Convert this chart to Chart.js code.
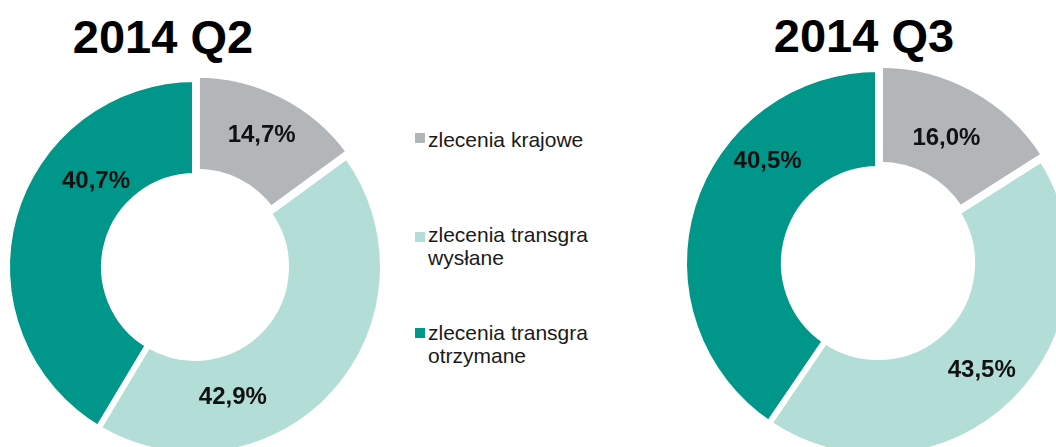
<!DOCTYPE html>
<html>
<head>
<meta charset="utf-8">
<script src="https://cdn.jsdelivr.net/npm/chart.js@4.4.0/dist/chart.umd.min.js"></script>
<style>
  html, body { margin:0; padding:0; background:#fff; }
  body { width:1056px; height:447px; overflow:hidden; position:relative; font-family:"Liberation Sans", Arial, sans-serif; }
  .box { position:absolute; }
  .title { position:absolute; font-weight:bold; font-size:47px; line-height:47px; color:#000; white-space:nowrap; transform:translateX(-50%); }
  .leg { position:absolute; left:428px; font-size:21px; line-height:23px; color:#1a1a1a; }
  .sq { position:absolute; left:415px; width:10px; height:10px; }
</style>
</head>
<body>
<div class="title" style="left:163px; top:13px;">2014 Q2</div>
<div class="title" style="left:864px; top:12px;">2014 Q3</div>
<div class="box" style="left:0px; top:0px; width:390px; height:447px;"><canvas id="c1"></canvas></div>
<div class="box" style="left:660px; top:0px; width:396px; height:447px;"><canvas id="c2"></canvas></div>
<div id="legend"></div>
<script>
// ---- data ----
const categories = ["zlecenia krajowe", "zlecenia transgra\nwysłane", "zlecenia transgra\notrzymane"];
const colors = ["#B2B6B9", "#B3DDD7", "#00968A"];
const titles = ["2014 Q2", "2014 Q3"];
const valuesQ2 = [14.7, 42.9, 40.7];
const valuesQ3 = [16.0, 43.5, 40.5];

// label placement (fraction along arc, fraction across ring)
const labelPosQ2 = [[0.5, 0.58], [0.70, 0.46], [0.67, 0.41]];
const labelPosQ3 = [[0.5, 0.48], [0.5, 0.55], [0.675, 0.56]];
const explode = [16, 0, 0];

const fmt = v => v.toFixed(1).replace('.', ',') + '%';

const labelPlugin = {
  id: 'sliceLabels',
  afterDatasetsDraw(chart, args, opts) {
    const ctx = chart.ctx;
    const meta = chart.getDatasetMeta(0);
    const data = chart.data.datasets[0].data;
    ctx.save();
    ctx.font = 'bold 24px "Liberation Sans", Arial, sans-serif';
    ctx.fillStyle = '#111';
    ctx.textAlign = 'center';
    ctx.textBaseline = 'middle';
    meta.data.forEach((arc, i) => {
      const p = arc.getProps(['x','y','startAngle','endAngle','innerRadius','outerRadius'], true);
      const pos = opts.pos[i];
      const a = p.startAngle + pos[0] * (p.endAngle - p.startAngle);
      const r = p.innerRadius + pos[1] * (p.outerRadius - p.innerRadius);
      ctx.fillText(fmt(data[i]), p.x + Math.cos(a) * r, p.y + Math.sin(a) * r);
    });
    ctx.restore();
  }
};

function makeChart(id, values, pos, radius, cutout, padding) {
  return new Chart(document.getElementById(id), {
    type: 'doughnut',
    data: {
      labels: categories,
      datasets: [{
        data: values,
        backgroundColor: colors,
        borderColor: '#ffffff',
        borderWidth: 6,
        offset: explode,
        hoverOffset: 0,
        clip: false
      }]
    },
    options: {
      responsive: true,
      maintainAspectRatio: false,
      animation: false,
      radius: radius,
      cutout: cutout,
      layout: { padding: padding },
      plugins: {
        legend: { display: false },
        tooltip: { enabled: false },
        sliceLabels: { pos: pos }
      },
      events: []
    },
    plugins: [labelPlugin]
  });
}

makeChart('c1', valuesQ2, labelPosQ2, 188, '48.4%', { top: 87, left: 0, right: 0, bottom: 0 });
makeChart('c2', valuesQ3, labelPosQ3, 194, '48.5%', { top: 79, left: 40, right: 0, bottom: 0 });

// legend (HTML, built from categories/colors)
const legendTops = [128, 223, 321];
const sqTops = [133, 232, 328];
const legend = document.getElementById('legend');
categories.forEach((c, i) => {
  const sq = document.createElement('div');
  sq.className = 'sq';
  sq.style.top = sqTops[i] + 'px';
  sq.style.background = colors[i];
  legend.appendChild(sq);
  const t = document.createElement('div');
  t.className = 'leg';
  t.style.top = legendTops[i] + 'px';
  t.innerHTML = c.split('\n').join('<br>');
  legend.appendChild(t);
});
</script>
</body>
</html>
